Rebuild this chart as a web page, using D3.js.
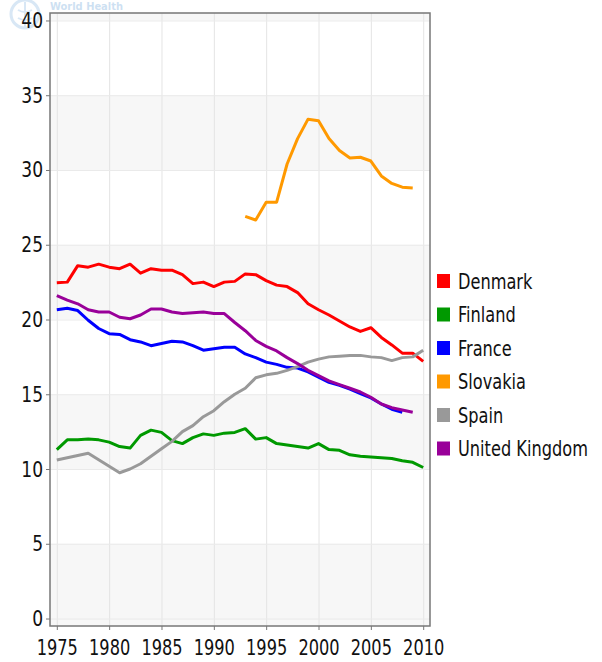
<!DOCTYPE html>
<html>
  <head>
    <meta charset="utf-8">
    <script src="https://d3js.org/d3.v7.min.js"></script>
    <style>
      body { margin: 0; background: #fff; }
      svg { display: block; }
      text { font-family: "DejaVu Sans Condensed", "DejaVu Sans", sans-serif; fill: #111; }
    </style>
  </head>
  <body>
    <script>
    var width = 602, height = 662;
    var margin = {top: 13, right: 172, bottom: 36, left: 50};

    // values, one array per country
    var years = d3.range(1975, 2011);
    var denmark = [22.45, 22.5, 23.6, 23.5, 23.7, 23.5, 23.4, 23.7, 23.1, 23.4, 23.3, 23.3, 23.0, 22.4, 22.5, 22.2,
                   22.5, 22.55, 23.05, 23.0, 22.6, 22.3, 22.2, 21.8, 21.05, 20.65, 20.3, 19.9, 19.5, 19.2, 19.45,
                   18.8, 18.3, 17.75, 17.75, 17.2];
    var finland = [11.3, 11.95, 11.95, 12.0, 11.95, 11.8, 11.5, 11.4, 12.25, 12.6, 12.45, 11.9, 11.7, 12.1, 12.35,
                   12.25, 12.4, 12.45, 12.7, 12.0, 12.1, 11.7, 11.6, 11.5, 11.4, 11.7, 11.3, 11.25, 10.95, 10.85,
                   10.8, 10.75, 10.7, 10.55, 10.45, 10.1];
    var france = [20.65, 20.75, 20.6, 19.95, 19.4, 19.05, 19.0, 18.65, 18.5, 18.25, 18.4, 18.55, 18.5, 18.25, 17.95,
                  18.05, 18.15, 18.15, 17.7, 17.45, 17.15, 17.0, 16.8, 16.75, 16.5, 16.15, 15.8, 15.6, 15.35, 15.05,
                  14.75, 14.35, 14.0, 13.8, null, null];
    var slovakia = [null, null, null, null, null, null, null, null, null, null, null, null, null, null, null,
                    null, null, null, 26.9, 26.65, 27.85, 27.85, 30.4, 32.1, 33.4, 33.3, 32.1, 31.3, 30.8, 30.85,
                    30.6, 29.6, 29.1, 28.85, 28.8, null];
    var spain = [10.6, null, null, 11.05, null, null, 9.75, 10.0, 10.35, 10.85, 11.35, 11.85, 12.5, 12.9, 13.5,
                 13.9, 14.5, 15.0, 15.4, 16.1, 16.3, 16.4, 16.6, 16.85, 17.15, 17.35, 17.5, 17.55, 17.6, 17.6,
                 17.5, 17.45, 17.25, 17.45, 17.5, 17.95];
    var uk = [21.6, 21.3, 21.05, 20.65, 20.5, 20.5, 20.15, 20.05, 20.3, 20.7, 20.7, 20.5, 20.4, 20.45, 20.5,
              20.4, 20.4, 19.8, 19.25, 18.6, 18.2, 17.9, 17.45, 17.05, 16.6, 16.25, 15.9, 15.65, 15.4, 15.15,
              14.8, 14.35, 14.1, 13.95, 13.8, null];

    var names = ["Denmark", "Finland", "France", "Slovakia", "Spain", "United Kingdom"];
    var colors = ["#ff0000", "#009900", "#0000ff", "#ff9900", "#999999", "#990099"];
    var seriesValues = [denmark, finland, france, slovakia, spain, uk];

    var xTicks = [1975, 1980, 1985, 1990, 1995, 2000, 2005, 2010];
    var yTicks = [0, 5, 10, 15, 20, 25, 30, 35, 40];

    var plotRight = width - margin.right;   // 430
    var plotBottom = height - margin.bottom; // 626

    var x = d3.scaleLinear().domain([1974.35, 2010.65]).range([margin.left, plotRight]);
    var y = d3.scaleLinear().domain([-0.5, 40.5]).range([plotBottom, margin.top]);

    var svg = d3.select("body").append("svg")
        .attr("width", width)
        .attr("height", height);

    // faint logo in the corner
    var logo = svg.append("g").attr("opacity", 0.3);
    logo.append("circle").attr("cx", 25).attr("cy", 14).attr("r", 14)
        .attr("fill", "none").attr("stroke", "#7fb2e0").attr("stroke-width", 3);
    logo.append("path").attr("d", "M25,2 L25,28 M18,10 Q25,14 32,10 M18,18 Q25,22 32,18")
        .attr("fill", "none").attr("stroke", "#7fb2e0").attr("stroke-width", 2);
    logo.append("text").attr("x", 50).attr("y", 10)
        .style("font-size", "11px").style("font-weight", "bold").style("fill", "#5b9bd5")
        .text("World Health");

    // plot background with alternating bands
    svg.append("rect")
        .attr("x", margin.left).attr("y", margin.top)
        .attr("width", plotRight - margin.left).attr("height", plotBottom - margin.top)
        .attr("fill", "#f7f7f7");
    svg.selectAll(".band")
      .data([5, 15, 25, 35])
      .enter().append("rect")
        .attr("class", "band")
        .attr("x", margin.left)
        .attr("width", plotRight - margin.left)
        .attr("y", function(d) { return y(d + 5); })
        .attr("height", function(d) { return y(d) - y(d + 5); })
        .attr("fill", "#ffffff");

    // grid
    svg.append("g")
      .attr("transform", "translate(0," + plotBottom + ")")
      .call(d3.axisBottom(x).tickValues(xTicks).tickSize(-(plotBottom - margin.top)).tickFormat(""))
      .call(function(g) {
        g.select(".domain").remove();
        g.selectAll("line").attr("stroke", "#e4e4e4");
      });
    svg.append("g")
      .attr("transform", "translate(" + margin.left + ",0)")
      .call(d3.axisLeft(y).tickValues(yTicks).tickSize(-(plotRight - margin.left)).tickFormat(""))
      .call(function(g) {
        g.select(".domain").remove();
        g.selectAll("line").attr("stroke", "#eaeaea");
      });

    // lines (missing years are skipped, not broken)
    var line = d3.line()
        .x(function(d) { return x(d[0]); })
        .y(function(d) { return y(d[1]); });

    svg.append("g").selectAll("path")
      .data(seriesValues.map(function(vals) {
        return years.map(function(yr, i) { return [yr, vals[i]]; })
                    .filter(function(p) { return p[1] != null; });
      }))
      .enter().append("path")
        .attr("d", line)
        .attr("fill", "none")
        .attr("stroke", function(d, i) { return colors[i]; })
        .attr("stroke-width", 3)
        .attr("stroke-linejoin", "round");

    // frame
    svg.append("rect")
        .attr("x", margin.left).attr("y", margin.top)
        .attr("width", plotRight - margin.left).attr("height", plotBottom - margin.top)
        .attr("fill", "none").attr("stroke", "#777").attr("stroke-width", 1.5);

    // axes (text stretched a bit vertically like the original)
    svg.append("g")
      .attr("transform", "translate(0," + plotBottom + ")")
      .call(d3.axisBottom(x).tickValues(xTicks).tickSize(4).tickPadding(7).tickFormat(d3.format("d")))
      .call(function(g) {
        g.select(".domain").remove();
        g.selectAll("line").attr("stroke", "#777");
        g.selectAll("text").style("font-size", "18px").style("fill", "#111")
          .attr("font-family", null).attr("transform", "scale(1,1.2)");
      });
    svg.append("g")
      .attr("transform", "translate(" + margin.left + ",0)")
      .call(d3.axisLeft(y).tickValues(yTicks).tickSize(4).tickPadding(3))
      .call(function(g) {
        g.select(".domain").remove();
        g.selectAll("line").attr("stroke", "#777");
        g.selectAll("text").style("font-size", "19px").style("fill", "#111")
          .attr("font-family", null).attr("transform", "scale(1,1.15)");
      });

    // legend
    var legend = svg.append("g").selectAll("g")
      .data(names)
      .enter().append("g")
        .attr("transform", function(d, i) { return "translate(437," + (281 + i * 33.5) + ")"; });
    legend.append("rect")
        .attr("x", 0).attr("y", -7).attr("width", 13).attr("height", 14)
        .attr("fill", function(d, i) { return colors[i]; });
    legend.append("text")
        .attr("transform", "translate(21,0) scale(1,1.17)")
        .attr("dy", "0.36em")
        .style("font-size", "18px")
        .text(function(d) { return d; });
    </script>
  </body>
</html>
